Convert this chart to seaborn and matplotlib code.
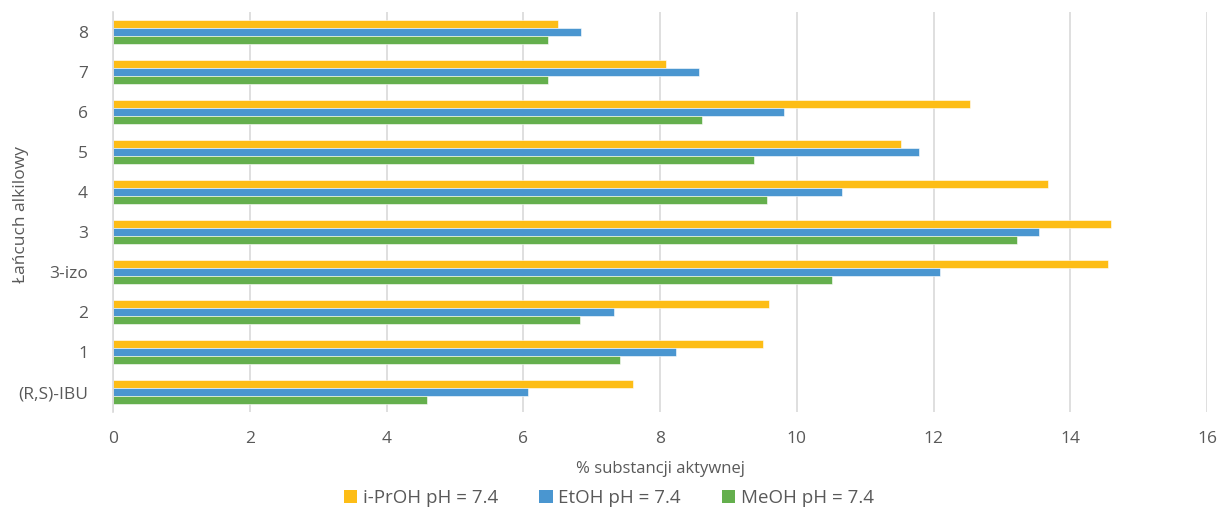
import matplotlib
matplotlib.use("Agg")
import matplotlib.pyplot as plt
import seaborn as sns
import pandas as pd
from matplotlib.patches import Patch

# Alkyl chain categories (top to bottom as drawn)
categories = ["8", "7", "6", "5", "4", "3", "3-izo", "2", "1", "(R,S)-IBU"]

# % of active substance per solvent
iproh = [6.51, 8.09, 12.54, 11.52, 13.68, 14.59, 14.55, 9.59, 9.50, 7.60]
etoh = [6.85, 8.57, 9.82, 11.79, 10.66, 13.55, 12.09, 7.33, 8.23, 6.07]
meoh = [6.36, 6.36, 8.61, 9.38, 9.57, 13.22, 10.51, 6.83, 7.41, 4.59]

series_names = ["i-PrOH pH = 7.4", "EtOH pH = 7.4", "MeOH pH = 7.4"]
colors = ["#FDBD16", "#4A96D0", "#64AF4D"]

x_ticks = [0, 2, 4, 6, 8, 10, 12, 14, 16]

df = pd.DataFrame({
    "cat": categories * 3,
    "val": iproh + etoh + meoh,
    "series": [series_names[0]] * 10 + [series_names[1]] * 10 + [series_names[2]] * 10,
})

sns.set_theme(style="white")
plt.rcParams["font.family"] = ["Open Sans", "DejaVu Sans"]
text_color = "#595959"

fig = plt.figure(figsize=(12.18, 5.11), dpi=100)
ax = fig.add_axes([113 / 1218, 1 - 412 / 511, (1207 - 113) / 1218, 400 / 511])

sns.barplot(
    data=df, y="cat", x="val", hue="series", order=categories,
    hue_order=series_names, palette=colors, orient="h",
    width=0.62, gap=0, ax=ax, legend=False, saturation=1,
    edgecolor="white", linewidth=0.4,
)

ax.set_xlim(0, 16)
ax.set_xticks(x_ticks)
ax.set_xticklabels([str(t) for t in x_ticks])
ax.grid(axis="x", color="#d9d9d9", linewidth=1.2)
ax.set_axisbelow(True)
for s in ["top", "right", "bottom"]:
    ax.spines[s].set_visible(False)
ax.spines["left"].set_color("#d9d9d9")
ax.spines["left"].set_linewidth(1.2)

ax.tick_params(axis="both", length=0, labelsize=12.5, colors=text_color)
ax.tick_params(axis="x", pad=14)
ax.tick_params(axis="y", pad=18)

ax.set_xlabel("% substancji aktywnej", fontsize=12, color=text_color, labelpad=10)
ax.set_ylabel("Łańcuch alkilowy", fontsize=12.5, color=text_color)
ax.yaxis.set_label_coords((29 - 113) / 1094, 0.495)

handles = [Patch(facecolor=c, edgecolor="none") for c in colors]
fig.legend(
    handles, series_names, loc="center", bbox_to_anchor=(0.5, 1 - 498 / 511),
    ncol=3, frameon=False, fontsize=13.5, labelcolor=text_color,
    handlelength=0.7, handleheight=0.7, handletextpad=0.3, columnspacing=2.2,
)

fig.savefig("out.png", dpi=100)
